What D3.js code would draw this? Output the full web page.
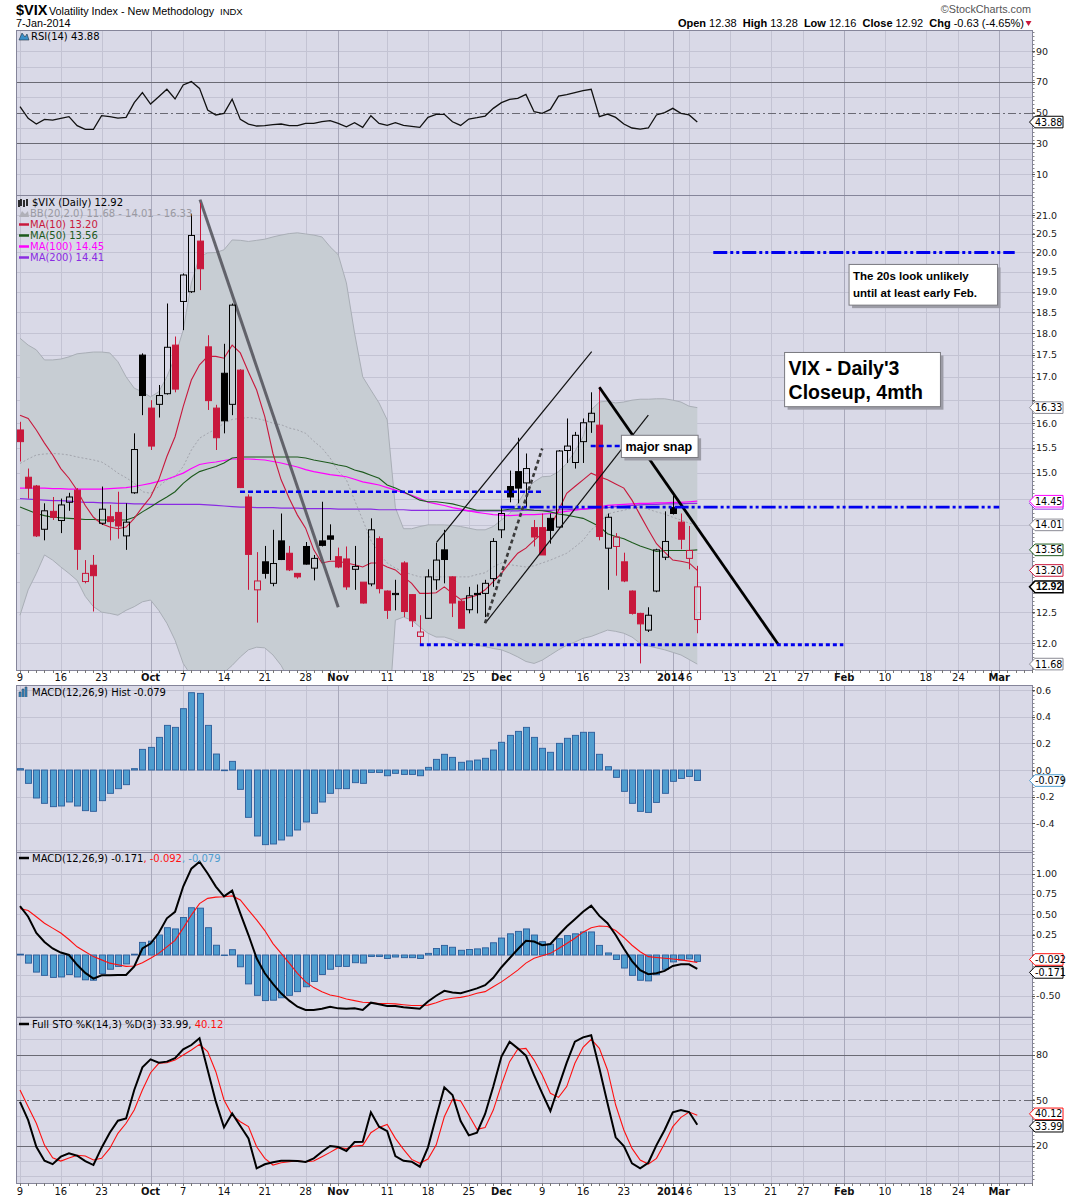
<!DOCTYPE html>
<html>
<head>
<meta charset="utf-8">
<script src="https://cdn.jsdelivr.net/npm/d3@7"></script>
<style>
body { margin: 0; background: #fff; }
text { font-family: "DejaVu Sans", Verdana, sans-serif; }
</style>
</head>
<body>
<div id="chart"></div>
<script>
// ---- Data (trading-day index 0 = 9-Sep-2013, 83 = 7-Jan-2014) ----
const opens  = [15.86,14.91,14.74,13.93,14.26,14.09,14.43,14.66,13.01,13.29, 14.04,14.16,14.24,13.81,14.61,17.49,16.32,16.40,16.63,17.72,
                18.76,19.00,20.30,17.68,16.32,17.08,16.40,17.15,14.53,12.87, 13.35,12.98,13.72,13.50,13.15,13.62,13.24,13.72,13.81,13.44,
                13.40,13.22,13.00,12.97,13.76,12.85,12.79,13.33,12.79,12.11, 12.40,13.04,13.56,13.09,12.68,12.54,12.81,12.81,13.06,13.92,
                14.73,15.02,14.80,13.96,13.96,14.13,13.97,15.44,15.20,15.62, 16.03,15.96,13.59,13.62,13.35,12.85,12.48,12.21,12.85,13.43,
                14.33,14.06,13.41,12.38];
const highs  = [16.03,15.08,14.76,14.41,14.53,14.50,14.61,14.70,13.38,13.47, 14.73,14.38,14.63,14.41,15.79,17.53,16.49,16.82,18.71,17.92,
                19.46,21.04,21.34,17.95,16.39,17.75,18.71,17.17,14.58,13.52, 13.63,13.92,14.22,13.63,13.15,13.70,13.47,14.44,14.02,13.60,
                13.62,13.63,13.00,14.13,13.80,12.86,13.04,13.36,12.80,12.45, 13.22,13.69,13.92,13.10,12.70,12.92,12.96,13.04,13.77,14.34,
                15.04,15.70,15.38,14.10,14.22,14.22,15.45,16.10,15.82,16.10, 16.66,16.78,14.22,13.86,13.51,12.86,12.49,12.58,13.58,14.26,
                14.56,14.22,13.99,13.28];
const lows   = [15.22,14.50,13.79,13.73,14.10,13.86,14.27,13.21,12.98,12.51, 14.01,13.73,13.76,13.56,14.59,16.17,15.45,16.12,16.61,16.66,
                18.07,18.97,19.04,16.28,15.45,15.79,16.17,14.70,12.87,12.33, 13.06,12.93,13.38,13.19,13.06,13.30,13.03,13.62,13.38,13.24,
                12.87,12.87,12.64,12.93,12.81,12.39,12.53,12.42,12.26,11.98, 12.39,12.87,12.98,12.42,12.24,12.48,12.48,12.42,12.92,13.77,
                14.43,14.41,14.34,13.62,13.47,13.67,13.95,15.19,15.08,15.19, 15.80,13.73,12.87,13.11,13.00,12.46,11.69,12.18,12.83,13.38,
                14.20,13.57,13.22,12.16];
const closes = [15.62,14.70,13.81,14.27,14.15,14.38,14.53,13.57,13.15,13.11, 14.30,14.07,13.99,14.06,15.46,16.59,15.53,16.59,17.67,16.73,
                19.42,20.45,19.58,16.48,15.70,16.05,18.67,14.71,13.48,13.02, 13.15,13.32,13.39,13.21,13.09,13.31,13.41,13.64,13.75,13.26,
                12.92,13.27,12.65,13.92,12.89,12.53,12.81,12.51,12.36,12.18, 13.09,13.38,13.39,12.65,12.24,12.77,12.79,12.98,13.71,14.22,
                14.53,14.70,15.08,13.79,13.47,13.91,15.43,15.53,15.75,16.01, 16.21,13.80,14.15,13.79,13.02,12.48,12.31,12.45,13.56,13.71,
                14.22,13.75,13.55,12.92];
const priorClose = 16.0; // close before the first visible candle (first candle is red)

const ma10  = [16.17,16.10,15.86,15.59,15.35,15.08,14.89,14.66,14.37,14.15, 14.03,13.97,13.94,13.97,14.13,14.34,14.53,14.86,15.32,15.72,
               16.35,16.93,17.27,17.46,17.46,17.42,17.72,17.54,17.11,16.71, 16.14,15.38,14.86,14.50,14.19,13.95,13.56,13.33,13.36,13.36,
               13.33,13.30,13.26,13.33,13.33,13.26,13.21,13.09,12.98,12.81, 12.81,12.82,12.92,12.81,12.71,12.74,12.78,12.87,13.01,13.15,
               13.33,13.50,13.59,13.73,13.85,13.97,14.28,14.60,14.73,14.86, 14.99,14.92,14.86,14.78,14.70,14.47,14.19,13.92,13.67,13.52,
               13.38,13.36,13.33,13.20];
const ma50  = [14.34,14.28,14.22,14.18,14.15,14.14,14.13,14.12,14.11,14.11, 14.10,14.10,14.10,14.10,14.15,14.25,14.34,14.44,14.53,14.63,
               14.79,14.92,15.02,15.07,15.12,15.19,15.29,15.31,15.31,15.31, 15.31,15.31,15.31,15.31,15.31,15.29,15.25,15.22,15.19,15.15,
               15.12,15.05,15.01,14.95,14.89,14.76,14.70,14.63,14.55,14.47, 14.44,14.44,14.42,14.40,14.36,14.32,14.28,14.28,14.28,14.28,
               14.30,14.31,14.30,14.28,14.27,14.25,14.21,14.19,14.16,14.13, 14.06,13.98,13.85,13.80,13.76,13.69,13.63,13.58,13.53,13.55,
               13.55,13.55,13.55,13.56];
const ma100 = [14.70,14.70,14.70,14.70,14.69,14.69,14.68,14.68,14.68,14.68, 14.68,14.69,14.70,14.71,14.73,14.76,14.79,14.83,14.87,14.93,
               14.99,15.08,15.16,15.19,15.21,15.24,15.27,15.27,15.27,15.26, 15.25,15.22,15.19,15.15,15.11,15.06,15.02,14.99,14.96,14.94,
               14.92,14.87,14.82,14.79,14.76,14.71,14.66,14.61,14.56,14.50, 14.43,14.40,14.37,14.33,14.30,14.27,14.24,14.22,14.20,14.19,
               14.18,14.19,14.20,14.20,14.21,14.22,14.24,14.26,14.28,14.30, 14.32,14.34,14.37,14.38,14.39,14.40,14.41,14.41,14.42,14.42,
               14.43,14.43,14.44,14.45];
const ma200 = [14.50,14.49,14.48,14.47,14.46,14.46,14.45,14.44,14.43,14.43, 14.42,14.42,14.41,14.41,14.40,14.40,14.39,14.39,14.39,14.39,
               14.39,14.39,14.39,14.38,14.37,14.36,14.35,14.34,14.34,14.33, 14.33,14.33,14.32,14.32,14.32,14.31,14.31,14.31,14.31,14.30,
               14.30,14.30,14.30,14.30,14.29,14.29,14.29,14.29,14.28,14.28, 14.28,14.28,14.28,14.28,14.28,14.27,14.27,14.27,14.27,14.27,
               14.27,14.27,14.28,14.28,14.28,14.28,14.29,14.29,14.30,14.30, 14.31,14.32,14.33,14.35,14.36,14.37,14.38,14.39,14.39,14.40,
               14.40,14.40,14.41,14.41];
const bbUpper = [17.88,17.72,17.61,17.38,17.38,17.40,17.45,17.52,17.54,17.56, 17.56,17.54,17.34,17.00,16.75,16.67,16.56,16.67,17.00,17.45,
                 18.07,19.22,19.89,19.99,20.00,20.07,20.33,20.32,20.29,20.32, 20.35,20.41,20.46,20.50,20.52,20.49,20.46,20.41,20.15,19.94,
                 19.22,18.00,17.00,16.71,16.43,16.07,14.33,13.94,13.94,13.98, 14.01,14.01,14.01,14.00,13.98,13.95,13.92,13.92,13.98,14.10,
                 14.22,14.41,14.66,14.82,14.92,14.93,15.02,15.18,15.42,15.72, 16.28,16.45,16.47,16.43,16.45,16.49,16.51,16.51,16.52,16.52,
                 16.49,16.45,16.36,16.33];
const bbMid   = [15.18,15.27,15.35,15.37,15.38,15.37,15.35,15.31,15.28,15.25, 15.21,15.11,14.99,14.90,14.80,14.63,14.60,14.73,14.86,14.92,
                 15.12,15.45,15.69,15.79,15.88,16.00,16.08,16.10,16.12,16.10, 16.06,16.00,15.97,15.90,15.86,15.79,15.63,15.49,15.29,15.03,
                 14.86,14.47,14.10,13.73,13.50,13.33,13.24,13.18,13.13,13.09, 13.09,13.09,13.09,13.09,13.09,13.09,13.13,13.16,13.26,13.33,
                 13.30,13.28,13.26,13.28,13.33,13.38,13.44,13.50,13.61,13.73, 13.92,14.03,14.21,14.25,14.28,14.32,14.34,14.30,14.25,14.21,
                 14.15,14.10,14.04,14.01];
const bbLower = [12.45,12.87,13.15,13.47,13.38,13.26,13.15,13.03,12.76,12.59, 12.50,12.48,12.45,12.53,12.59,12.67,12.70,12.53,12.32,12.05,
                 11.69,11.50,11.40,11.40,11.45,11.55,11.66,11.79,11.90,11.94, 11.93,11.82,11.66,11.43,11.20,11.10,10.80,10.60,10.40,10.40,
                 10.50,10.90,11.20,10.80,10.60,10.60,12.37,12.42,12.37,12.26, 12.16,12.10,12.10,12.06,12.00,12.00,11.97,11.95,11.92,11.90,
                 11.85,11.79,11.72,11.69,11.74,11.82,11.90,11.97,12.02,12.08, 12.11,12.16,12.21,12.19,12.16,12.10,12.00,11.96,11.93,11.90,
                 11.86,11.82,11.75,11.68];

const rsi = [53.9,46.3,42.6,45.6,45.2,46.3,47.4,41.5,39.1,39.1, 48.0,47.4,46.5,46.9,56.5,63.0,55.6,60.4,65.2,58.9,
             68.0,70.2,65.8,51.7,48.5,49.5,58.7,45.6,42.6,41.3, 41.5,42.2,42.6,41.5,41.5,43.0,43.0,44.1,44.8,43.0,
             40.8,43.5,40.4,48.0,43.0,41.7,43.5,41.7,41.1,40.4, 46.9,48.9,48.9,44.1,41.7,45.8,46.7,47.8,52.8,56.5,
             58.7,59.3,61.9,50.6,49.5,52.1,60.8,61.7,63.0,64.3, 65.2,47.4,49.1,46.9,42.6,40.0,39.3,40.0,48.5,50.0,
             52.8,49.5,48.5,43.88];
const macdHist = [0.01,-0.10,-0.21,-0.25,-0.275,-0.27,-0.24,-0.27,-0.305,-0.31, -0.23,-0.175,-0.14,-0.11,0.01,0.155,0.17,0.245,0.335,0.32,
                  0.46,0.58,0.575,0.335,0.12,-0.005,0.065,-0.145,-0.355,-0.495, -0.56,-0.555,-0.525,-0.495,-0.45,-0.39,-0.325,-0.24,-0.175,-0.14,
                  -0.14,-0.095,-0.10,-0.018,-0.018,-0.043,-0.025,-0.033,-0.033,-0.043, 0.02,0.08,0.118,0.095,0.058,0.068,0.075,0.088,0.15,0.208,
                  0.26,0.29,0.32,0.245,0.163,0.133,0.20,0.238,0.26,0.283, 0.283,0.118,0.025,-0.055,-0.16,-0.25,-0.31,-0.318,-0.243,-0.175,
                  -0.085,-0.063,-0.048,-0.079];
const macdLine = [0.60,0.47,0.27,0.16,0.08,0.03,0.00,-0.12,-0.22,-0.29, -0.25,-0.25,-0.245,-0.245,-0.14,0.08,0.14,0.27,0.45,0.53,
                  0.84,1.06,1.145,1.00,0.84,0.72,0.79,0.51,0.245,-0.04, -0.225,-0.355,-0.47,-0.56,-0.635,-0.675,-0.675,-0.66,-0.635,-0.655,
                  -0.66,-0.655,-0.675,-0.585,-0.605,-0.625,-0.625,-0.64,-0.65,-0.66, -0.57,-0.50,-0.44,-0.46,-0.47,-0.44,-0.41,-0.37,-0.28,-0.15,
                  -0.04,0.07,0.175,0.165,0.12,0.135,0.245,0.35,0.44,0.53, 0.605,0.48,0.39,0.245,0.08,-0.075,-0.185,-0.235,-0.225,-0.195,
                  -0.135,-0.115,-0.115,-0.171];
const macdSignal = [0.57,0.545,0.47,0.39,0.33,0.27,0.19,0.10,0.04,-0.02, -0.06,-0.10,-0.12,-0.14,-0.135,-0.095,-0.04,0.02,0.10,0.18,
                    0.33,0.49,0.63,0.695,0.71,0.715,0.725,0.675,0.55,0.43, 0.30,0.14,0.02,-0.10,-0.225,-0.33,-0.40,-0.45,-0.49,-0.51,
                    -0.54,-0.56,-0.58,-0.585,-0.595,-0.595,-0.60,-0.61,-0.62,-0.62, -0.615,-0.585,-0.55,-0.53,-0.52,-0.50,-0.47,-0.45,-0.39,-0.33,
                    -0.26,-0.185,-0.10,-0.04,-0.01,0.02,0.08,0.14,0.205,0.28, 0.335,0.355,0.35,0.30,0.215,0.12,0.04,-0.02,-0.03,-0.04,
                    -0.05,-0.06,-0.075,-0.092];
const stoK = [49,37,19.5,10.3,8.1,13,15.2,13.6,10.1,7.5, 18.9,28.7,36.6,38.1,56.8,71.6,76.9,74.7,75.4,77.6,
              83.5,86.3,90.7,69.9,49.1,32.2,41.4,33.1,25,5.3, 8,9.3,10.3,10.3,10.1,9.5,11.9,16.2,20,19.3,
              16.7,22.6,22.8,42.1,32.7,29.8,13.4,10.3,9.7,6.4, 19.1,39.2,58.5,53.5,36.4,27,28.7,41,59,78.7,
              88.5,84.1,79.3,66.6,54.6,43,59,74.7,88.5,91.3, 92.7,71,48,25.7,20,8.6,5.3,9,20.6,30.5,
              42.1,43.6,42.3,33.99];
const stoD = [56.8,45.8,34.9,20.6,12.3,10.1,12.1,13.9,13.4,10.8, 11.9,18.4,28.3,34.9,43.6,56.8,68.1,74.3,74.7,76.4,
              79.7,83,86.7,82,68.8,50.2,40.3,35.9,32.7,19.5, 11.9,7.5,9.0,9.7,10.3,9.7,10.1,13,15.8,18.9,
              18.4,20,20.4,28.7,32.2,34.2,25,17.8,11.2,8.6, 11.4,20.6,39.2,50.6,49.5,40.3,30.9,32.2,43.6,60.1,
              75.4,83.5,84.1,76.4,66.6,54.6,51.9,59,74.3,84.8, 90.1,84.1,69.9,46.9,30.5,18.4,10.8,8.1,11.9,21.7,
              32.7,38.8,42.3,40.12];

// date axis (index of trading day, label); month starts are bold
const tickIdx  = [0,5,10,16,20,25,30,35,39,45,50,55,59,64,69,74,80,82,87,92,96,101,106,111,115,120];
const tickText = ["9","16","23","Oct","7","14","21","28","Nov","11","18","25","Dec","9","16","23","2014","6","13","21","27","Feb","10","18","24","Mar"];
const monthTicks = ["Oct","Nov","Dec","2014","Feb","Mar"];

const mainTicks = [12.0,12.5,13.0,13.5,14.0,14.5,15.0,15.5,16.0,16.5,17.0,17.5,18.0,18.5,19.0,19.5,20.0,20.5,21.0];
const rsiTicks  = [90,70,50,30,10];
const histTicks = [0.6,0.4,0.2,0.0,-0.2,-0.4];
const macdTicks = [1.00,0.75,0.50,0.25,0.00,-0.25,-0.50];
const stoTicks  = [80,50,20];

// ---- Layout ----
const W = 1075, H = 1200;
const left = 16, right = 1032;
const BG = "#d9d9e7", GRID = "#c3c3d3", GRID_M = "#a9a9bb", BORDER = "#85859a";
const RED = "#c8183c", BLUE = "#0000ee";
const TAG_H = 5.8, TAG_W = 33;

const svg = d3.select("#chart").append("svg")
    .attr("width", W)
    .attr("height", H);

const x = d3.scaleLinear().domain([0, 120]).range([20, 999.2]);

const pRsi  = { top: 30,  bottom: 195 };
const pMain = { top: 195, bottom: 670 };
const pHist = { top: 685, bottom: 852 };
const pMacd = { top: 852, bottom: 1017 };
const pSto  = { top: 1017, bottom: 1183 };

const yRsi  = d3.scaleLinear().domain([-3.6, 103.8]).range([pRsi.bottom, pRsi.top]);
const yMain = d3.scaleLog().domain([11.59, 21.56]).range([pMain.bottom, pMain.top]);
const yHist = d3.scaleLinear().domain([-0.615, 0.6377]).range([pHist.bottom, pHist.top]);
const yMacd = d3.scaleLinear().domain([-0.761, 1.264]).range([pMacd.bottom, pMacd.top]);
const ySto  = d3.scaleLinear().domain([-4.3, 104.7]).range([pSto.bottom, pSto.top]);

const idx = d3.range(closes.length);

// Draws background, grid and clip for a panel; returns the clipped group
function makePanel(name, p, y, gridVals) {
    svg.append("clipPath").attr("id", "clip-" + name)
        .append("rect")
        .attr("x", left).attr("y", p.top)
        .attr("width", right - left).attr("height", p.bottom - p.top);

    const g = svg.append("g");
    g.append("rect")
        .attr("x", left).attr("y", p.top)
        .attr("width", right - left).attr("height", p.bottom - p.top)
        .attr("fill", BG);

    g.selectAll(".hgrid").data(gridVals).join("line")
        .attr("x1", left).attr("x2", right)
        .attr("y1", d => Math.round(y(d)) + 0.5).attr("y2", d => Math.round(y(d)) + 0.5)
        .attr("stroke", GRID);

    g.selectAll(".vgrid").data(tickIdx).join("line")
        .attr("x1", d => Math.round(x(d)) + 0.5).attr("x2", d => Math.round(x(d)) + 0.5)
        .attr("y1", p.top).attr("y2", p.bottom)
        .attr("stroke", (d, i) => monthTicks.includes(tickText[i]) ? GRID_M : GRID);

    return svg.append("g").attr("clip-path", `url(#clip-${name})`);
}

function border(p) {
    svg.append("rect")
        .attr("x", left + 0.5).attr("y", p.top + 0.5)
        .attr("width", right - left).attr("height", p.bottom - p.top)
        .attr("fill", "none").attr("stroke", BORDER);
}

// dotted minor ticks just right of the panel edge
function minorTicks(p) {
    svg.append("g").selectAll("line").data(d3.range(p.top + 2, p.bottom, 4)).join("line")
        .attr("x1", right + 1).attr("x2", right + 2.5)
        .attr("y1", d => d + 0.5).attr("y2", d => d + 0.5)
        .attr("stroke", "#888");
}

// right-hand value labels; labels hidden behind a value tag are left out
function axisLabels(y, vals, fmt, tagYs) {
    const free = vals.filter(v => !(tagYs || []).some(t => Math.abs(y(v) - t) < 9));
    svg.append("g").selectAll("line").data(vals).join("line")
        .attr("x1", right).attr("x2", right + 3)
        .attr("y1", d => Math.round(y(d)) + 0.5).attr("y2", d => Math.round(y(d)) + 0.5)
        .attr("stroke", "#555");
    svg.append("g").selectAll("text").data(free).join("text")
        .attr("x", right + 4).attr("y", d => y(d) + 3.5)
        .attr("font-size", 9.5).attr("fill", "#222")
        .text(fmt);
}

function tag(yPos, label, color, bold) {
    const g = svg.append("g");
    const h = TAG_H;
    g.append("path")
        .attr("d", `M${right - 2.5},${yPos} L${right + 3},${yPos - h} L${right - 2 + TAG_W},${yPos - h} L${right - 2 + TAG_W},${yPos + h} L${right + 3},${yPos + h} Z`)
        .attr("fill", "#fff").attr("stroke", color).attr("stroke-width", bold ? 1.5 : 1);
    const t = g.append("text")
        .attr("x", right + 3).attr("y", yPos + 3.6)
        .attr("font-size", bold ? 10.5 : 9.6).attr("font-weight", bold ? "bold" : "normal")
        .attr("fill", "#000").text(label);
    if (bold) t.style("font-family", "Liberation Sans, Arial, sans-serif").attr("x", right + 4);
}

function dateLabels(yPos, tickTop) {
    svg.append("g").selectAll("line").data(d3.range(0, 125)).join("line")
        .attr("x1", d => Math.round(x(d)) + 0.5).attr("x2", d => Math.round(x(d)) + 0.5)
        .attr("y1", tickTop).attr("y2", tickTop + 3)
        .attr("stroke", "#777");
    svg.append("g").selectAll("text").data(tickIdx).join("text")
        .attr("x", (d, i) => tickText[i] === "2014" ? x(d) - 2 : x(d)).attr("y", yPos)
        .attr("text-anchor", "middle")
        .attr("font-size", 10)
        .attr("font-weight", (d, i) => monthTicks.includes(tickText[i]) ? "bold" : "normal")
        .attr("fill", "#111")
        .text((d, i) => tickText[i]);
}

function legendLine(g, xPos, yPos, items) {
    const t = g.append("text").attr("x", xPos).attr("y", yPos).attr("font-size", 10);
    items.forEach(([s, c]) => t.append("tspan").attr("fill", c).text(s));
    return t;
}

// ---- Header ----
svg.append("text").attr("x", 16).attr("y", 15)
    .style("font-family", "Liberation Sans, Arial, sans-serif")
    .attr("font-size", 14.5).attr("font-weight", "bold").text("$VIX");
svg.append("text").attr("x", 49).attr("y", 15)
    .style("font-family", "Liberation Sans, Arial, sans-serif")
    .attr("font-size", 10.8).text("Volatility Index - New Methodology");
svg.append("text").attr("x", 220).attr("y", 15)
    .style("font-family", "Liberation Sans, Arial, sans-serif")
    .attr("font-size", 9.5).text("INDX");
svg.append("text").attr("x", 16).attr("y", 27)
    .style("font-family", "Liberation Sans, Arial, sans-serif")
    .attr("font-size", 10.8).text("7-Jan-2014");
svg.append("text").attr("x", 1031).attr("y", 13)
    .style("font-family", "Liberation Sans, Arial, sans-serif")
    .attr("text-anchor", "end").attr("font-size", 10.8).attr("fill", "#555")
    .text("\u00A9StockCharts.com");

const ohlc = svg.append("text").attr("x", 1024).attr("y", 27)
    .style("font-family", "Liberation Sans, Arial, sans-serif")
    .attr("text-anchor", "end").attr("font-size", 11);
[["Open ", true], ["12.38  ", false], ["High ", true], ["13.28  ", false], ["Low ", true], ["12.16  ", false],
 ["Close ", true], ["12.92  ", false], ["Chg ", true], ["-0.63 (-4.65%)", false]]
    .forEach(([s, b]) => ohlc.append("tspan").attr("font-weight", b ? "bold" : "normal").attr("xml:space", "preserve").text(s));
svg.append("path").attr("d", "M1025.5,21 L1031.5,21 L1028.5,26 Z").attr("fill", RED);

// ---- RSI panel ----
const gRsi = makePanel("rsi", pRsi, yRsi, [10, 20, 40, 60, 80, 90]);
[70, 30].forEach(v => gRsi.append("line")
    .attr("x1", left).attr("x2", right)
    .attr("y1", Math.round(yRsi(v)) + 0.5).attr("y2", Math.round(yRsi(v)) + 0.5)
    .attr("stroke", "#6a6a74").attr("stroke-width", 1.2));
gRsi.append("line")
    .attr("x1", left).attr("x2", right)
    .attr("y1", Math.round(yRsi(50)) + 0.5).attr("y2", Math.round(yRsi(50)) + 0.5)
    .attr("stroke", "#6a6a74").attr("stroke-dasharray", "8,3,2,3");
gRsi.append("path").datum(rsi)
    .attr("fill", "none").attr("stroke", "#111").attr("stroke-width", 1.3)
    .attr("d", d3.line().x((d, i) => x(i)).y(d => yRsi(d)));
legendLine(svg, 31, 40, [["RSI(14) 43.88", "#000"]]);
svg.append("path").attr("d", "M19,40 L22,33 L25,37 L27,34 L29,40 Z").attr("fill", "#3a8fc9").attr("stroke", "#234").attr("stroke-width", 0.6);
border(pRsi);
minorTicks(pRsi);
axisLabels(yRsi, rsiTicks, d => d, []);
tag(yRsi(43.88), "43.88", "#000", false);

// ---- Main price panel ----
const gMain = makePanel("main", pMain, yMain, mainTicks);

// Bollinger band
gMain.append("path").datum(idx)
    .attr("fill", "#c7cdd3").attr("stroke", "none")
    .attr("d", d3.area().x(i => x(i)).y0(i => yMain(bbLower[i])).y1(i => yMain(bbUpper[i])));
[bbUpper, bbLower].forEach(s => gMain.append("path").datum(s)
    .attr("fill", "none").attr("stroke", "#a9aeb6").attr("stroke-width", 1)
    .attr("d", d3.line().x((d, i) => x(i)).y(d => yMain(d))));
gMain.append("path").datum(bbMid)
    .attr("fill", "none").attr("stroke", "#a2a4ac").attr("stroke-dasharray", "2,2")
    .attr("d", d3.line().x((d, i) => x(i)).y(d => yMain(d)));

// moving averages
const maSeries = [[ma200, "#8a2be2", 1.2], [ma100, "#ff00ff", 1.2], [ma50, "#1d5a1d", 1.1], [ma10, "#c8183c", 1.1]];
maSeries.forEach(([s, c, w]) => gMain.append("path").datum(s)
    .attr("fill", "none").attr("stroke", c).attr("stroke-width", w)
    .attr("d", d3.line().x((d, i) => x(i)).y(d => yMain(d))));

// annotation line drawn under the candles
gMain.append("line")
    .attr("x1", x(22.06)).attr("y1", yMain(21.43)).attr("x2", x(39.0)).attr("y2", yMain(12.58))
    .attr("stroke", "#505058").attr("stroke-width", 3).attr("opacity", 0.85);

// candles
const candles = gMain.append("g");
idx.forEach(i => {
    const o = opens[i], c = closes[i], hi = highs[i], lo = lows[i];
    const prev = i === 0 ? priorClose : closes[i - 1];
    const col = c < prev ? RED : "#000";
    const filled = c < o;
    const cx = Math.round(x(i)) + 0.5;
    const yTop = yMain(Math.max(o, c)), yBot = yMain(Math.min(o, c));
    candles.append("line").attr("x1", cx).attr("x2", cx)
        .attr("y1", yMain(hi)).attr("y2", yTop).attr("stroke", col);
    candles.append("line").attr("x1", cx).attr("x2", cx)
        .attr("y1", yBot).attr("y2", yMain(lo)).attr("stroke", col);
    candles.append("rect")
        .attr("x", cx - 3).attr("y", yTop)
        .attr("width", 6).attr("height", Math.max(1, yBot - yTop))
        .attr("fill", filled ? col : "none")
        .attr("stroke", col).attr("stroke-width", 1);
});

// annotations on top
function seg(i1, v1, i2, v2, color, width, dash) {
    const l = gMain.append("line")
        .attr("x1", x(i1)).attr("y1", yMain(v1)).attr("x2", x(i2)).attr("y2", yMain(v2))
        .attr("stroke", color).attr("stroke-width", width);
    if (dash) l.attr("stroke-dasharray", dash);
    return l;
}
seg(26.96, 14.63, 63.9, 14.63, BLUE, 2.5, "5,3");
seg(51.07, 13.70, 70.06, 17.57, "#111", 1.2);
seg(57.07, 12.33, 77.0, 16.17, "#111", 1.2);
seg(56.99, 12.32, 64.0, 15.48, "#3a3a3a", 2.6, "4,3");
seg(71.0, 16.77, 93.0, 11.97, "#000", 2.8);
seg(69.94, 15.53, 73.7, 15.53, BLUE, 2.5, "5,3");
seg(58.9, 14.34, 120.0, 14.34, BLUE, 2.8, "14,3,3,3,3,3");
seg(49.0, 11.98, 100.9, 11.98, BLUE, 3, "4,3");
seg(84.96, 20.0, 121.9, 20.0, BLUE, 3, "14,3,3,3,3,3");

function noteBox(i1, i2, vTop, vBot, lines, size, dy) {
    const x1 = x(i1), x2 = x(i2), y1 = yMain(vTop), y2 = yMain(vBot);
    gMain.append("rect").attr("x", x1 + 3).attr("y", y1 + 3)
        .attr("width", x2 - x1).attr("height", y2 - y1).attr("fill", "#9c9ca6");
    gMain.append("rect").attr("x", x1).attr("y", y1)
        .attr("width", x2 - x1).attr("height", y2 - y1)
        .attr("fill", "#fff").attr("stroke", "#7a7a80");
    lines.forEach((s, k) => gMain.append("text")
        .attr("x", x1 + 4).attr("y", y1 + dy[k])
        .style("font-family", "Liberation Sans, Arial, sans-serif")
        .attr("font-size", size).attr("font-weight", "bold").text(s));
}
noteBox(73.7, 83.1, 15.75, 15.30, ["major snap"], 12.5, [16]);
noteBox(101.6, 119.8, 19.69, 18.67, ["The 20s look unlikely", "until at least early Feb."], 11.5, [16, 33]);
noteBox(93.7, 112.8, 17.55, 16.35, ["VIX - Daily'3", "Closeup, 4mth"], 19.5, [23, 47]);

// legend
const lg = svg.append("g");
legendLine(lg, 32, 206, [["$VIX (Daily) 12.92", "#000"]]);
lg.append("path").attr("d", "M19,200 v7 M21,199 v7 M24,200 v7 M27,199 v7").attr("stroke", "#000").attr("stroke-width", 1.6);
legendLine(lg, 30, 217, [["BB(20,2.0) 11.68 - 14.01 - 16.33", "#9a9aa2"]]);
lg.append("path").attr("d", "M19,217 L22,211 L25,214 L28,211 L29,217 Z").attr("fill", "#b0b0b8");
[["MA(10) 13.20", "#c8183c", 228], ["MA(50) 13.56", "#1d5a1d", 239], ["MA(100) 14.45", "#ff00ff", 250], ["MA(200) 14.41", "#8a2be2", 261]]
    .forEach(([s, c, yy]) => {
        lg.append("line").attr("x1", 19).attr("x2", 29).attr("y1", yy - 3.5).attr("y2", yy - 3.5)
            .attr("stroke", c).attr("stroke-width", 2.5);
        legendLine(lg, 30, yy, [[s, c]]);
    });

border(pMain);
minorTicks(pMain);
const mainTags = [[16.33, "#8a8a94", false], [14.41, "#8a2be2", false], [14.45, "#ff00ff", false], [14.01, "#8a8a94", false],
                  [13.56, "#1d5a1d", false], [13.20, "#c8183c", false], [12.92, "#000", true], [11.68, "#8a8a94", false]];
axisLabels(yMain, mainTicks, d => d.toFixed(1), mainTags.map(t => yMain(t[0])));
mainTags.forEach(([v, c, b]) => tag(yMain(v), v.toFixed(2), c, b));
dateLabels(681, pMain.bottom);

// ---- MACD histogram panel ----
const gHist = makePanel("hist", pHist, yHist, histTicks.concat([-0.6]));
gHist.selectAll("rect.bar").data(idx).join("rect")
    .attr("x", i => Math.round(x(i)) - 2.5).attr("width", 6)
    .attr("y", i => yHist(Math.max(0, macdHist[i])))
    .attr("height", i => Math.max(0.5, Math.abs(yHist(macdHist[i]) - yHist(0))))
    .attr("fill", "#4f9dcf").attr("stroke", "#2b5c9a").attr("stroke-width", 0.9);
legendLine(svg, 32, 696, [["MACD(12,26,9) Hist -0.079", "#000"]]);
svg.append("path").attr("d", "M19,697 v-5 h2 v5 M22,697 v-8 h2 v8 M25,697 v-10 h2 v10").attr("fill", "#3a8fc9").attr("stroke", "#234").attr("stroke-width", 0.5);
border(pHist);
minorTicks(pHist);
axisLabels(yHist, histTicks, d => d.toFixed(1), [yHist(-0.079)]);
tag(yHist(-0.079), "-0.079", "#4f9dcf", false);

// ---- MACD panel ----
const gMacd = makePanel("macd", pMacd, yMacd, macdTicks.concat([-0.75]));
gMacd.selectAll("rect.bar").data(idx).join("rect")
    .attr("x", i => Math.round(x(i)) - 2.5).attr("width", 6)
    .attr("y", i => yMacd(Math.max(0, macdHist[i])))
    .attr("height", i => Math.max(0.5, Math.abs(yMacd(macdHist[i]) - yMacd(0))))
    .attr("fill", "#4f9dcf").attr("stroke", "#2b5c9a").attr("stroke-width", 0.9);
gMacd.append("path").datum(macdSignal)
    .attr("fill", "none").attr("stroke", "#ff1010").attr("stroke-width", 1.1)
    .attr("d", d3.line().x((d, i) => x(i)).y(d => yMacd(d)));
gMacd.append("path").datum(macdLine)
    .attr("fill", "none").attr("stroke", "#000").attr("stroke-width", 2)
    .attr("d", d3.line().x((d, i) => x(i)).y(d => yMacd(d)));
svg.append("line").attr("x1", 19).attr("x2", 29).attr("y1", 858).attr("y2", 858).attr("stroke", "#000").attr("stroke-width", 2.5);
legendLine(svg, 32, 862, [["MACD(12,26,9) -0.171", "#000"], [", -0.092", "#ff1010"], [", -0.079", "#4f9dcf"]]);
border(pMacd);
minorTicks(pMacd);
// the two value tags sit almost on top of each other; spread them just enough to stay readable
const macdTagY = [yMacd(-0.092) - 3, yMacd(-0.171) + 3.5];
axisLabels(yMacd, macdTicks, d => d.toFixed(2), macdTagY);
tag(macdTagY[0], "-0.092", "#ff1010", false);
tag(macdTagY[1], "-0.171", "#000", false);

// ---- Full stochastics panel ----
const gSto = makePanel("sto", pSto, ySto, [0, 10, 30, 40, 60, 70, 90, 100]);
[80, 20].forEach(v => gSto.append("line")
    .attr("x1", left).attr("x2", right)
    .attr("y1", Math.round(ySto(v)) + 0.5).attr("y2", Math.round(ySto(v)) + 0.5)
    .attr("stroke", "#6a6a74").attr("stroke-width", 1.2));
gSto.append("line")
    .attr("x1", left).attr("x2", right)
    .attr("y1", Math.round(ySto(50)) + 0.5).attr("y2", Math.round(ySto(50)) + 0.5)
    .attr("stroke", "#6a6a74").attr("stroke-dasharray", "8,3,2,3");
gSto.append("path").datum(stoD)
    .attr("fill", "none").attr("stroke", "#ff1010").attr("stroke-width", 1.1)
    .attr("d", d3.line().x((d, i) => x(i)).y(d => ySto(d)));
gSto.append("path").datum(stoK)
    .attr("fill", "none").attr("stroke", "#000").attr("stroke-width", 2)
    .attr("d", d3.line().x((d, i) => x(i)).y(d => ySto(d)));
svg.append("line").attr("x1", 19).attr("x2", 29).attr("y1", 1024).attr("y2", 1024).attr("stroke", "#000").attr("stroke-width", 2.5);
legendLine(svg, 32, 1028, [["Full STO %K(14,3) %D(3) 33.99, ", "#000"], ["40.12", "#ff1010"]]);
border(pSto);
minorTicks(pSto);
const stoTagY = [ySto(40.12) - 1.5, ySto(33.99) + 1.5];
axisLabels(ySto, stoTicks, d => d, stoTagY);
tag(stoTagY[0], "40.12", "#ff1010", false);
tag(stoTagY[1], "33.99", "#000", false);
dateLabels(1195, pSto.bottom);
</script>
</body>
</html>
